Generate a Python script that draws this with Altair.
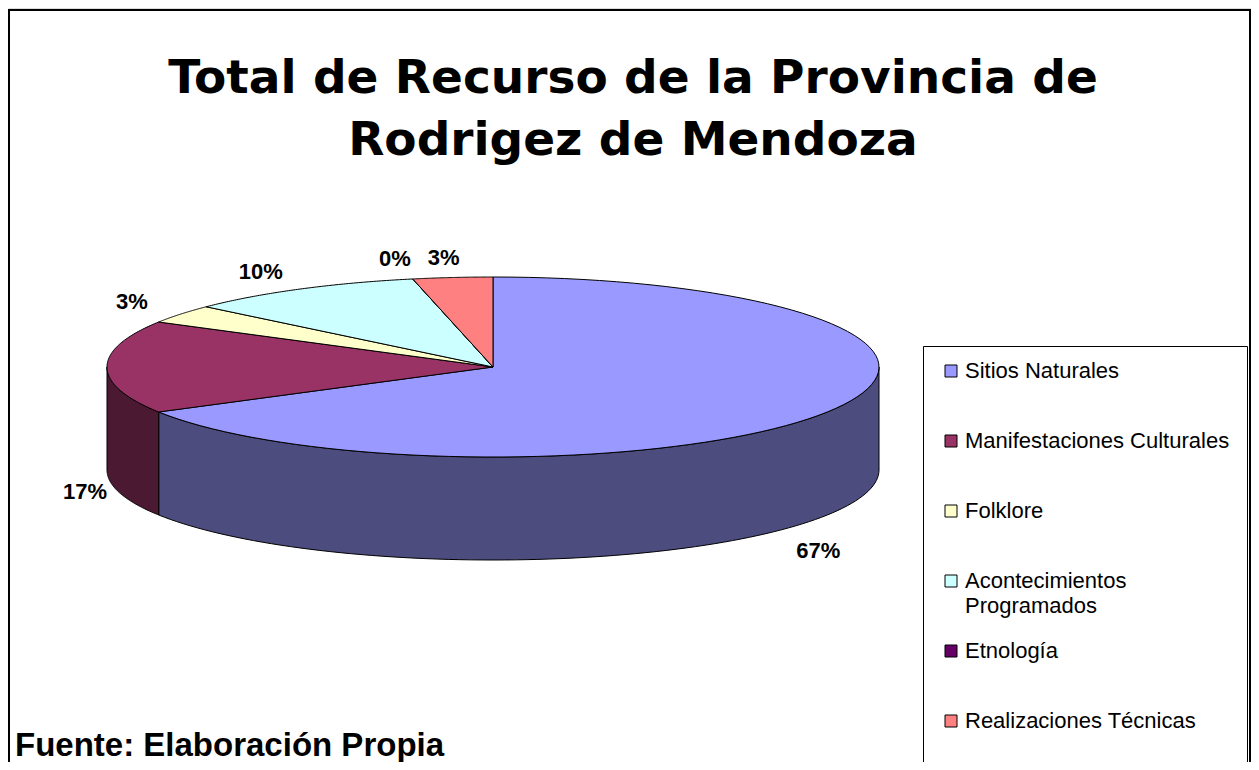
import altair as alt
import pandas as pd

# ---------------- data ----------------
CATEGORIES = [
    "Sitios Naturales",
    "Manifestaciones Culturales",
    "Folklore",
    "Acontecimientos Programados",
    "Etnología",
    "Realizaciones Técnicas",
]
LEGEND_LABELS = [
    "Sitios Naturales",
    "Manifestaciones Culturales",
    "Folklore",
    "Acontecimientos\nProgramados",
    "Etnología",
    "Realizaciones Técnicas",
]
VALUES = [20, 5, 1, 3, 0, 1]
TOP_COLORS = ["#9999FF", "#993366", "#FFFFCC", "#CCFFFF", "#660066", "#FF8080"]
SIDE_COLORS = ["#4C4C7F", "#4C1933", "#7F7F66", "#667F7F", "#330033", "#7F4040"]
TITLE_LINES = ["Total de Recurso de la Provincia de", "Rodrigez de Mendoza"]
SOURCE = ["Fuente: Elaboración Propia"]

# ---------------- layout (page pixel units) ----------------
W, H = 1243, 754
CX, CY, RX, RY, DEPTH = 493, 367, 386, 90, 103
N = 90

xs = alt.Scale(domain=[8, 8 + W], nice=False, zero=False)
ys = alt.Scale(domain=[8, 8 + H], nice=False, zero=False, reverse=True)
X = alt.X("px:Q", scale=xs, axis=None)
Y = alt.Y("py:Q", scale=ys, axis=None)

top_scale = alt.Scale(domain=CATEGORIES, range=TOP_COLORS)
side_scale = alt.Scale(domain=CATEGORIES, range=SIDE_COLORS)

pie_df = pd.DataFrame({"cat": CATEGORIES, "value": VALUES, "idx": list(range(len(CATEGORIES)))})

base = (
    alt.Chart(pie_df)
    .transform_joinaggregate(total="sum(value)")
    .transform_window(cum="sum(value)", sort=[alt.SortField("idx")], frame=[None, 0])
    .transform_calculate(
        a1="2*PI*datum.cum/datum.total",
        a0="2*PI*(datum.cum-datum.value)/datum.total",
    )
)

# side walls (front half only)
sides = (
    base.transform_calculate(b0="max(datum.a0, PI/2)", b1="min(datum.a1, 3*PI/2)")
    .transform_filter("datum.b1 > datum.b0")
    .transform_calculate(ks=f"sequence(0, {2 * N + 3})")
    .transform_flatten(["ks"], as_=["k"])
    .transform_calculate(
        t=f"datum.k <= {N} ? datum.b0 + (datum.b1-datum.b0)*datum.k/{N} : "
          f"(datum.k <= {2 * N + 1} ? datum.b1 - (datum.b1-datum.b0)*(datum.k-{N + 1})/{N} : datum.b0)",
        dz=f"(datum.k > {N} && datum.k <= {2 * N + 1}) ? {DEPTH} : 0",
    )
    .transform_calculate(
        px=f"{CX} + {RX}*sin(datum.t)",
        py=f"{CY} - {RY}*cos(datum.t) + datum.dz",
    )
    .mark_line(filled=True, stroke="black", strokeWidth=1, strokeJoin="round", fillOpacity=1)
    .encode(
        x=X, y=Y, order="k:Q", detail="cat:N",
        color=alt.Color("cat:N", scale=side_scale, legend=None),
    )
)

# top faces
tops = (
    base.transform_calculate(ks=f"sequence(0, {N + 3})")
    .transform_flatten(["ks"], as_=["k"])
    .transform_calculate(
        t=f"datum.a0 + (datum.a1-datum.a0)*clamp(datum.k-1, 0, {N})/{N}",
        rim=f"datum.k >= 1 && datum.k <= {N + 1}",
    )
    .transform_calculate(
        px=f"datum.rim ? {CX} + {RX}*sin(datum.t) : {CX}",
        py=f"datum.rim ? {CY} - {RY}*cos(datum.t) : {CY}",
    )
    .mark_line(filled=True, stroke="black", strokeWidth=1, strokeJoin="round", fillOpacity=1)
    .encode(
        x=X, y=Y, order="k:Q", detail="cat:N",
        color=alt.Color("cat:N", scale=top_scale, legend=None),
    )
)

# percentage labels
labels = (
    base.transform_calculate(mid="(datum.a0+datum.a1)/2", pct="datum.value/datum.total")
    .transform_calculate(ux="sin(datum.mid)", uy="-cos(datum.mid)")
    .transform_calculate(
        px=f"{CX} + datum.ux*({RX} + 22 - 65*datum.uy)",
        py=f"datum.uy > -0.1 ? {CY} + datum.uy*{RY} + {DEPTH} + 22 + 28*datum.uy : {CY} + datum.uy*({RY}+20)",
    )
    .mark_text(font="Liberation Sans", fontWeight="bold", fontSize=22, baseline="middle", align="center", color="black")
    .encode(x=X, y=Y, text=alt.Text("pct:Q", format=".0%"))
)

# frame and legend box
frame = (
    alt.Chart(alt.Data(values=[{}]))
    .mark_rect(fill="transparent", stroke="black", strokeWidth=2)
    .encode(x=alt.value(1), x2=alt.value(1242), y=alt.value(2), y2=alt.value(900))
)
legend_box = (
    alt.Chart(alt.Data(values=[{}]))
    .mark_rect(fill="white", stroke="black", strokeWidth=1)
    .encode(x=alt.value(915.5), x2=alt.value(1239.5), y=alt.value(338.5), y2=alt.value(900))
)

leg_df = pd.DataFrame({"cat": CATEGORIES, "label": LEGEND_LABELS, "idx": list(range(len(CATEGORIES)))})
leg_sq = (
    alt.Chart(leg_df)
    .transform_calculate(px="951", py="371 + 70*datum.idx")
    .mark_square(size=144, stroke="black", strokeWidth=1, opacity=1)
    .encode(x=X, y=Y, color=alt.Color("cat:N", scale=top_scale, legend=None))
)
leg_tx = (
    alt.Chart(leg_df)
    .transform_calculate(px="965", py="378 + 70*datum.idx")
    .mark_text(font="Liberation Sans", fontSize=22, align="left", baseline="alphabetic",
               lineBreak="\n", lineHeight=25, color="black")
    .encode(x=X, y=Y, text="label:N")
)

title_df = pd.DataFrame({"line": TITLE_LINES, "idx": list(range(len(TITLE_LINES)))})
title = (
    alt.Chart(title_df)
    .transform_calculate(px="633", py="93 + 62*datum.idx")
    .mark_text(font="DejaVu Sans", fontWeight="bold", fontSize=47, align="center", baseline="alphabetic", color="black")
    .encode(x=X, y=Y, text="line:N")
)

source = (
    alt.Chart(pd.DataFrame({"s": SOURCE}))
    .transform_calculate(px="15", py="756")
    .mark_text(font="Liberation Sans", fontWeight="bold", fontSize=33, align="left", baseline="alphabetic", color="black")
    .encode(x=X, y=Y, text="s:N")
)

chart = (
    alt.layer(frame, legend_box, sides, tops, labels, leg_sq, leg_tx, title, source)
    .resolve_scale(color="independent")
    .properties(width=W, height=H, padding=0, autosize=alt.AutoSizeParams(type="none"))
    .configure_view(stroke=None)
    .configure(background="white")
)

chart.save("out.html", embed_options={"renderer": "svg", "actions": False})
